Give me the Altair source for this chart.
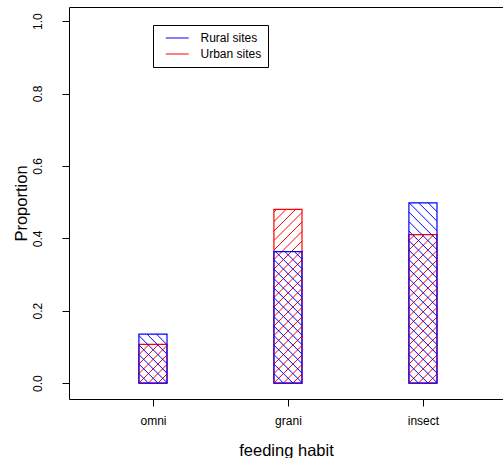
import altair as alt
import numpy as np
import pandas as pd

# ---- data ----
categories = ["omni", "grani", "insect"]
rural = [0.135, 0.363, 0.498]
urban = [0.107, 0.480, 0.410]
series = ["Rural sites", "Urban sites"]
colors = ["#0000FF", "#FF0000"]

# ---- layout / style ----
W, H = 434, 392
XDOM = [0.378, 3.593]
YDOM = [-0.044, 1.039]
PX = W / (XDOM[1] - XDOM[0])
PY = H / (YDOM[1] - YDOM[0])
HALF = 0.104      # half bar width (x units)
SP = 9.5          # hatch spacing in px
FONT = "Liberation Sans"

bars = []
hatch = []
for site, vals, ang in [("Urban sites", urban, 45), ("Rural sites", rural, -45)]:
    for i, (cat, v) in enumerate(zip(categories, vals)):
        xc = i + 1
        xl, xr = xc - HALF, xc + HALF
        bars.append(dict(cat=cat, site=site, xl=xl, xr=xr, y0=0.0, y1=v))
        Wp = (xr - xl) * PX
        Hp = v * PY
        if ang == 45:   # h = u + c
            for cc in np.arange(-np.ceil(Wp / SP) * SP, Hp, SP):
                u0, u1 = max(0.0, -cc), min(Wp, Hp - cc)
                if u1 - u0 > 0.5:
                    hatch.append(dict(site=site, xa=xl + u0 / PX, ya=(u0 + cc) / PY,
                                      xb=xl + u1 / PX, yb=(u1 + cc) / PY))
        else:           # h = -u + c
            for cc in np.arange(SP, Hp + Wp + SP, SP):
                u0, u1 = max(0.0, cc - Hp), min(Wp, cc)
                if u1 - u0 > 0.5:
                    hatch.append(dict(site=site, xa=xl + u0 / PX, ya=(cc - u0) / PY,
                                      xb=xl + u1 / PX, yb=(cc - u1) / PY))

bars_df = pd.DataFrame(bars)
hatch_df = pd.DataFrame(hatch)

xscale = alt.Scale(domain=XDOM, nice=False, zero=False)
yscale = alt.Scale(domain=YDOM, nice=False, zero=False)
stroke_scale = alt.Scale(domain=series, range=colors)

label_expr = "[''," + ",".join("'%s'" % c for c in categories) + "][datum.value]"

x_bottom = alt.Axis(orient="bottom", values=[1, 2, 3], labelExpr=label_expr, title="feeding habit",
                    grid=False, domainColor="black", tickColor="black", tickSize=7,
                    labelFont=FONT, labelFontSize=12, labelColor="black", labelPadding=9,
                    titleFont=FONT, titleFontSize=16.5, titleFontWeight="normal", titleColor="black",
                    titlePadding=16)
x_top = alt.Axis(orient="top", grid=False, ticks=False, labels=False, title=None,
                 domainColor="black")
y_left = alt.Axis(values=[0, 0.2, 0.4, 0.6, 0.8, 1.0], format=".1f", labelAngle=270,
                  grid=False, domainColor="black", tickColor="black", tickSize=7,
                  labelFont=FONT, labelFontSize=12, labelColor="black", labelPadding=18,
                  title="Proportion", titleFont=FONT, titleFontSize=16.5,
                  titleFontWeight="normal", titleColor="black", titlePadding=2)

legend = alt.Legend(title=None, orient="none", legendX=84, legendY=18, symbolType="M-2,0H2",
                    symbolSize=132, symbolStrokeWidth=1, symbolOffset=11.25, padding=6.5,
                    strokeColor="black", labelFont=FONT, labelFontSize=12, labelColor="black",
                    labelOffset=16.75, rowPadding=3, cornerRadius=0)


def rects(site, xaxis):
    return alt.Chart(bars_df).transform_filter(alt.datum.site == site).mark_rect(
        fill="transparent", strokeWidth=1.2
    ).encode(
        x=alt.X("xl:Q", scale=xscale, axis=xaxis),
        x2="xr:Q",
        y=alt.Y("y0:Q", scale=yscale, axis=y_left),
        y2="y1:Q",
        stroke=alt.Stroke("site:N", scale=stroke_scale, legend=legend),
    )


def lines(site):
    return alt.Chart(hatch_df).transform_filter(alt.datum.site == site).mark_rule(
        strokeWidth=1
    ).encode(
        x=alt.X("xa:Q", scale=xscale, axis=None),
        x2="xb:Q",
        y=alt.Y("ya:Q", scale=yscale, axis=y_left),
        y2="yb:Q",
        stroke=alt.Stroke("site:N", scale=stroke_scale, legend=legend),
    )


chart = alt.layer(
    rects("Urban sites", x_bottom),
    lines("Urban sites"),
    rects("Rural sites", x_top),
    lines("Rural sites"),
).resolve_axis(x="independent").properties(
    width=W, height=H,
    autosize=alt.AutoSizeParams(type="none"),
    padding={"left": 69, "top": 7, "right": 0, "bottom": 59},
    background="white",
).configure_view(stroke=None)

chart.save("out.html", embed_options={"renderer": "svg", "actions": False})
